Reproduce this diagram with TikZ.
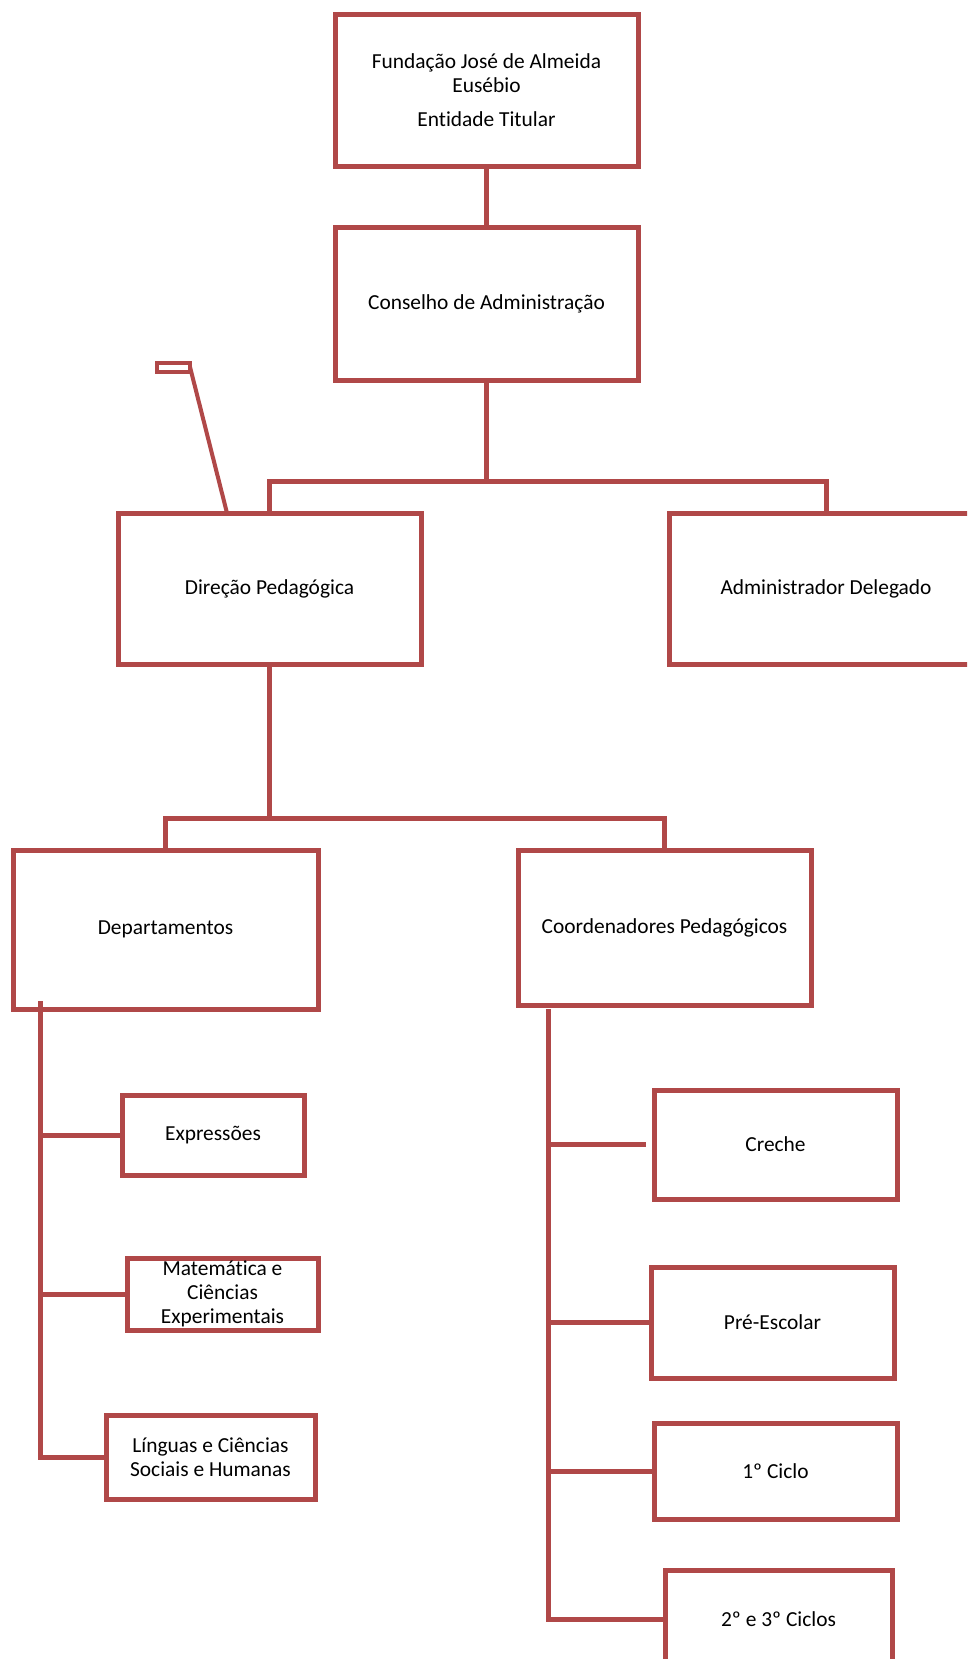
\documentclass[tikz,border=0pt]{standalone}
\usepackage{fontspec}
\setmainfont{Carlito}[Ligatures=NoCommon]
\usepackage{tikz}
\usetikzlibrary{positioning,calc}
\definecolor{boxred}{RGB}{176,72,72}
\tikzset{
  orgbox/.style={draw=boxred, line width=5pt, inner sep=0pt, align=center,
    font=\fontsize{21.4}{23.5}\selectfont},
  link/.style={draw=boxred, line width=5pt}
}

\begin{document}
\begin{tikzpicture}[x=1pt, y=-1pt]
    \clip (0,0) rectangle (967,1659);
    \fill[white] (0,0) rectangle (967,1659);
    % Top of the chart
    \node[orgbox, minimum width=303pt, minimum height=151pt] (fund) at (486.5,90.5)
        {Fundação José de Almeida\\Eusébio\\[11pt]Entidade Titular};
    \node[orgbox, minimum width=303pt, minimum height=153pt] (cons) at (486.5,303.5)
        {Conselho de Administração};
    \draw[link] (fund.south) -- (cons.south |- cons.north);
    % Second level
    \node[orgbox, minimum width=303pt, minimum height=151pt] (dir) at (269.5,588.5)
        {Direção Pedagógica};
    \node[orgbox, minimum width=314pt, minimum height=151pt] (adm) at (826,588.5)
        {Administrador Delegado};
    \coordinate (bus1) at (486.5,481);
    \draw[link] (dir.north) |- (bus1) -| (adm.north);
    \draw[link] (cons.south) -- (bus1);
    % Small flag
    \coordinate (flag) at (190,367);
    \draw[link, line width=3.5pt] (157,363) rectangle (190,372);
    \draw[link, line width=4pt] (flag) -- (227,513);
    % Third level
    \node[orgbox, minimum width=305pt, minimum height=159pt] (dep) at (165.5,929.5)
        {Departamentos};
    \node[orgbox, minimum width=293pt, minimum height=155pt] (coord) at (664.5,927.5)
        {Coordenadores Pedagógicos};
    \coordinate (bus2) at (269.5,818);
    \draw[link] (dep.north) |- (bus2) -| (coord.north);
    \draw[link] (dir.south) -- (bus2);
    % Departments
    \node[orgbox, minimum width=182pt, minimum height=80pt] (expr) at (213,1135)
        {Expressões};
    \node[orgbox, minimum width=191pt, minimum height=72pt, font=\fontsize{21.4}{24}\selectfont] (mat) at (222.5,1294)
        {Matemática e\\Ciências\\Experimentais};
    \node[orgbox, minimum width=209pt, minimum height=84pt] (ling) at (210.5,1457)
        {Línguas e Ciências\\Sociais e Humanas};
    \coordinate (ltop) at (40,1001);
    \draw[link] (ltop) |- (ling.west);
    \draw[link] (ltop |- expr.west) -- (expr.west);
    \draw[link] (ltop |- mat.west) -- (mat.west);
    % Coordinators
    \node[orgbox, minimum width=243pt, minimum height=109pt] (creche) at (775.5,1144.5)
        {Creche};
    \node[orgbox, minimum width=243pt, minimum height=111pt] (pre) at (772.5,1322.5)
        {Pré-Escolar};
    \node[orgbox, minimum width=243pt, minimum height=96pt] (ciclo1) at (775.5,1471)
        {1º Ciclo};
    \node[orgbox, minimum width=227pt, minimum height=98pt] (ciclo23) at (778.5,1619)
        {2º e 3º Ciclos};
    \coordinate (rtop) at (548,1009);
    \draw[link] (rtop) |- (ciclo23.west);
    \draw[link] (rtop |- creche.west) -- ([xshift=-6pt]creche.west);
    \draw[link] (rtop |- pre.west) -- (pre.west);
    \draw[link] (rtop |- ciclo1.west) -- (ciclo1.west);
\end{tikzpicture}
\end{document}
